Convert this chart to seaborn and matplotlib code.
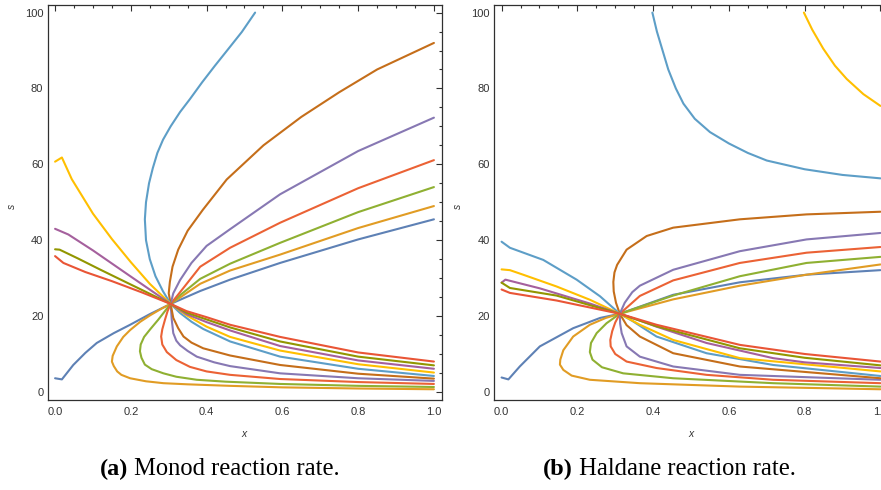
import matplotlib
matplotlib.use("Agg")
import matplotlib.pyplot as plt
from matplotlib.ticker import MultipleLocator
import seaborn as sns
import pandas as pd

# Trajectories (x, s) in the Monod phase plane, one list per curve
monod_c01 = [(0.0, 3.6), (0.018, 3.3), (0.048, 7.1), (0.08, 10.3), (0.11, 12.9), (0.155, 15.5),
             (0.198, 17.7), (0.25, 20.5), (0.305, 23.2), (0.383, 26.6), (0.462, 29.6),
             (0.594, 34.0), (0.8, 40.2), (1.0, 45.5)]
monod_c02 = [(1.0, 0.7), (0.8, 0.9), (0.6, 1.2), (0.462, 1.6), (0.35, 2.0), (0.286, 2.3),
             (0.24, 2.8), (0.198, 3.6), (0.175, 4.5), (0.164, 5.4), (0.155, 6.8), (0.15, 8.0),
             (0.152, 9.5), (0.163, 12.0), (0.18, 14.5), (0.198, 16.3), (0.225, 18.5),
             (0.251, 20.2), (0.28, 21.9), (0.305, 23.2), (0.383, 28.5), (0.462, 32.0),
             (0.594, 36.2), (0.8, 43.2), (1.0, 49.0)]
monod_c03 = [(1.0, 1.3), (0.8, 1.6), (0.594, 2.1), (0.45, 2.7), (0.374, 3.2), (0.32, 4.0),
             (0.286, 4.9), (0.255, 6.0), (0.237, 7.2), (0.228, 9.0), (0.224, 10.7),
             (0.226, 12.5), (0.235, 14.5), (0.251, 16.5), (0.272, 19.0), (0.29, 21.3),
             (0.305, 23.2), (0.33, 25.5), (0.383, 29.8), (0.462, 33.8), (0.594, 39.3),
             (0.8, 47.4), (1.0, 54.0)]
monod_c04 = [(1.0, 2.1), (0.8, 2.6), (0.594, 3.4), (0.462, 4.5), (0.4, 5.4), (0.356, 6.6),
             (0.32, 8.4), (0.295, 10.5), (0.283, 12.5), (0.28, 14.6), (0.283, 16.5),
             (0.29, 19.0), (0.297, 21.3), (0.305, 23.2), (0.33, 26.3), (0.383, 33.0),
             (0.462, 38.0), (0.594, 44.6), (0.8, 53.7), (1.0, 61.1)]
monod_c05 = [(1.0, 2.9), (0.8, 3.6), (0.594, 4.9), (0.462, 6.8), (0.42, 7.8), (0.374, 9.3),
             (0.35, 10.8), (0.33, 12.3), (0.32, 13.5), (0.312, 15.5), (0.308, 19.0),
             (0.307, 20.5), (0.305, 23.2), (0.312, 26.0), (0.33, 29.5), (0.36, 34.0),
             (0.4, 38.5), (0.462, 42.9), (0.594, 52.1), (0.8, 63.5), (1.0, 72.3)]
monod_c06 = [(1.0, 3.5), (0.8, 4.8), (0.594, 7.1), (0.462, 9.6), (0.391, 11.5), (0.36, 13.0),
             (0.339, 14.6), (0.325, 16.8), (0.312, 19.5), (0.305, 23.2), (0.30, 26.0),
             (0.303, 29.0), (0.31, 33.0), (0.325, 37.5), (0.35, 42.5), (0.39, 48.0),
             (0.453, 56.0), (0.55, 65.0), (0.65, 72.5), (0.75, 79.0), (0.85, 85.0), (1.0, 92.0)]
monod_c07 = [(1.0, 4.2), (0.8, 6.1), (0.594, 9.3), (0.462, 13.3), (0.391, 16.6), (0.36, 18.5),
             (0.33, 20.8), (0.305, 23.2), (0.285, 26.5), (0.265, 30.5), (0.25, 35.0),
             (0.24, 40.0), (0.237, 45.5), (0.24, 50.0), (0.248, 55.0), (0.258, 59.0),
             (0.27, 63.0), (0.285, 66.5), (0.305, 70.0), (0.33, 73.8), (0.356, 77.2),
             (0.388, 81.6), (0.422, 86.0), (0.458, 90.5), (0.493, 94.9), (0.528, 100.0)]
monod_c08 = [(1.0, 5.1), (0.8, 7.3), (0.594, 10.9), (0.462, 14.5), (0.4, 17.2), (0.347, 20.2),
             (0.305, 23.2), (0.25, 28.5), (0.2, 34.2), (0.15, 40.3), (0.1, 47.0),
             (0.044, 56.1), (0.018, 61.8), (0.0, 60.7)]
monod_c09 = [(1.0, 6.1), (0.8, 8.3), (0.594, 12.1), (0.462, 16.2), (0.4, 18.4), (0.347, 20.5),
             (0.305, 23.2), (0.2, 30.4), (0.1, 37.3), (0.035, 41.5), (0.0, 43.0)]
monod_c10 = [(1.0, 7.0), (0.8, 9.3), (0.594, 13.3), (0.462, 17.0), (0.4, 19.1), (0.347, 20.9),
             (0.305, 23.2), (0.2, 28.3), (0.12, 32.2), (0.06, 35.2), (0.012, 37.5), (0.0, 37.6)]
monod_c11 = [(1.0, 8.0), (0.8, 10.4), (0.594, 14.5), (0.462, 17.7), (0.4, 19.7), (0.347, 21.3),
             (0.305, 23.2), (0.23, 26.2), (0.15, 29.2), (0.08, 31.6), (0.022, 34.0), (0.0, 35.8)]

# Trajectories (x, s) in the Haldane phase plane
haldane_c01 = [(0.0, 3.8), (0.018, 3.3), (0.048, 6.7), (0.101, 12.0), (0.189, 16.8),
               (0.26, 19.5), (0.312, 20.6), (0.453, 25.6), (0.629, 28.9), (0.805, 30.9),
               (1.0, 32.1)]
haldane_c02 = [(1.0, 0.7), (0.629, 1.4), (0.365, 2.3), (0.233, 3.2), (0.185, 4.3), (0.163, 5.8),
               (0.154, 7.2), (0.155, 8.5), (0.163, 11.0), (0.189, 14.6), (0.233, 17.7),
               (0.275, 19.5), (0.312, 20.6), (0.453, 24.4), (0.629, 28.0), (0.805, 30.9),
               (1.0, 33.6)]
haldane_c03 = [(1.0, 1.4), (0.717, 2.3), (0.453, 3.6), (0.321, 4.9), (0.265, 6.5), (0.24, 8.5),
               (0.233, 10.5), (0.236, 12.9), (0.251, 15.5), (0.277, 18.1), (0.312, 20.6),
               (0.453, 25.4), (0.629, 30.5), (0.805, 34.0), (1.0, 35.6)]
haldane_c04 = [(1.0, 2.3), (0.717, 3.2), (0.541, 4.5), (0.409, 6.3), (0.33, 8.0), (0.3, 10.0),
               (0.288, 12.0), (0.287, 13.7), (0.292, 16.0), (0.3, 18.3), (0.312, 20.6),
               (0.365, 25.3), (0.453, 29.4), (0.629, 34.0), (0.805, 36.7), (1.0, 38.2)]
haldane_c05 = [(1.0, 3.2), (0.629, 4.5), (0.453, 6.7), (0.365, 9.3), (0.33, 12.0),
               (0.317, 15.5), (0.313, 18.0), (0.312, 20.6), (0.325, 23.5), (0.345, 26.3),
               (0.365, 28.0), (0.453, 32.2), (0.629, 37.1), (0.805, 40.2), (1.0, 41.9)]
haldane_c06 = [(1.0, 3.6), (0.629, 6.7), (0.453, 10.2), (0.365, 14.6), (0.33, 17.6),
               (0.312, 20.6), (0.302, 23.5), (0.296, 26.5), (0.295, 29.0), (0.298, 31.5),
               (0.305, 33.5), (0.33, 37.5), (0.383, 41.1), (0.453, 43.3), (0.629, 45.5),
               (0.805, 46.8), (1.0, 47.5)]
haldane_c07 = [(1.0, 4.2), (0.717, 7.1), (0.541, 10.2), (0.409, 14.6), (0.347, 18.6),
               (0.312, 20.6), (0.26, 25.2), (0.198, 29.6), (0.11, 34.8), (0.022, 38.0),
               (0.0, 39.6)]
haldane_c07_upper = [(0.398, 100.0), (0.41, 95.0), (0.425, 90.0), (0.44, 85.0), (0.46, 80.0),
                     (0.48, 76.0), (0.51, 72.0), (0.55, 68.5), (0.6, 65.5), (0.65, 63.0),
                     (0.7, 61.0), (0.8, 58.7), (0.9, 57.2), (1.0, 56.3)]
haldane_c08 = [(1.0, 5.4), (0.629, 8.9), (0.453, 13.7), (0.365, 17.7), (0.312, 20.6),
               (0.233, 24.3), (0.145, 27.8), (0.057, 30.9), (0.022, 32.1), (0.0, 32.3)]
haldane_c08_upper = [(0.798, 100.0), (0.82, 95.5), (0.849, 90.5), (0.88, 86.0),
                     (0.911, 82.5), (0.955, 78.5), (1.0, 75.4)]
haldane_c09 = [(1.0, 6.3), (0.8, 7.8), (0.717, 8.9), (0.541, 12.9), (0.409, 17.2),
               (0.365, 18.8), (0.312, 20.6), (0.233, 23.3), (0.101, 27.3), (0.01, 29.6),
               (0.0, 28.8)]
haldane_c10 = [(1.0, 7.0), (0.8, 9.0), (0.629, 11.5), (0.409, 17.3), (0.312, 20.6),
               (0.145, 25.4), (0.022, 27.4), (0.0, 28.8)]
haldane_c11 = [(1.0, 8.0), (0.8, 10.0), (0.629, 12.4), (0.409, 17.7), (0.312, 20.6),
               (0.145, 24.1), (0.022, 26.1), (0.0, 27.0)]

# Mathematica-style default line colours, one per initial condition
palette = ["#5E81B5", "#E19C24", "#8FB032", "#EB6235", "#8778B3", "#C56E1A",
           "#5D9EC7", "#FFBF00", "#A5609D", "#929600", "#E95536"]

monod_curves = [(1, monod_c01), (2, monod_c02), (3, monod_c03), (4, monod_c04),
                (5, monod_c05), (6, monod_c06), (7, monod_c07), (8, monod_c08),
                (9, monod_c09), (10, monod_c10), (11, monod_c11)]
haldane_curves = [(1, haldane_c01), (2, haldane_c02), (3, haldane_c03), (4, haldane_c04),
                  (5, haldane_c05), (6, haldane_c06), (7, haldane_c07), (7, haldane_c07_upper),
                  (8, haldane_c08), (8, haldane_c08_upper), (9, haldane_c09),
                  (10, haldane_c10), (11, haldane_c11)]

captions = [("(a)", " Monod reaction rate."), ("(b)", " Haldane reaction rate.")]


def to_frame(curves):
    rows = []
    for branch, (cid, pts) in enumerate(curves):
        for order, (x, s) in enumerate(pts):
            rows.append({"x": x, "s": s, "curve": cid, "branch": branch, "order": order})
    return pd.DataFrame(rows)


sns.set_theme(style="white")
plt.rcParams["font.family"] = ["Liberation Sans", "DejaVu Sans"]

W, H = 881, 490
fig = plt.figure(figsize=(W / 100, H / 100), dpi=100)

frame_color = "#303030"
label_color = "#333333"

ax_left = fig.add_axes([47.5 / W, (H - 399.5) / H, 394 / W, 394.5 / H])
ax_right = fig.add_axes([494 / W, (H - 399.5) / H, 394 / W, 394.5 / H])

for ax, curves in ((ax_left, monod_curves), (ax_right, haldane_curves)):
    df = to_frame(curves)
    sns.lineplot(data=df, x="x", y="s", hue="curve", units="branch", estimator=None,
                 sort=False, palette=palette, linewidth=1.5, legend=False, ax=ax)
    ax.set_xlim(-0.02, 1.02)
    ax.set_ylim(-2, 102)
    ax.xaxis.set_major_locator(MultipleLocator(0.2))
    ax.xaxis.set_minor_locator(MultipleLocator(0.05))
    ax.yaxis.set_major_locator(MultipleLocator(20))
    ax.yaxis.set_minor_locator(MultipleLocator(5))
    ax.xaxis.set_major_formatter(plt.FuncFormatter(lambda v, p: f"{v:.1f}"))
    ax.yaxis.set_major_formatter(plt.FuncFormatter(lambda v, p: f"{v:.0f}"))
    ax.tick_params(which="both", direction="in", top=True, right=True,
                   color=frame_color, width=0.8, labelsize=8, labelcolor=label_color)
    ax.tick_params(which="major", length=4)
    ax.tick_params(which="minor", length=2.3)
    ax.tick_params(axis="x", pad=5.5)
    ax.tick_params(axis="y", pad=3)
    for sp in ax.spines.values():
        sp.set_color(frame_color)
        sp.set_linewidth(0.9)
    ax.set_xlabel("x", fontsize=7.5, color=label_color, style="italic")
    ax.set_ylabel("s", fontsize=7.5, color=label_color, style="italic")
    ax.xaxis.set_label_coords(0.5, -0.075)
    ax.yaxis.set_label_coords(-0.078, 0.49)

fig.canvas.draw()
renderer = fig.canvas.get_renderer()
for (tag, text), x0 in zip(captions, (100, 543)):
    t1 = fig.text(x0 / W, 15 / H, tag, fontsize=17.5, fontweight="bold",
                  family="Liberation Serif", color="black", va="baseline", ha="left")
    bb = t1.get_window_extent(renderer)
    fig.text(bb.x1 / W, 15 / H, text, fontsize=17.7, family="Liberation Serif",
             color="black", va="baseline", ha="left")

fig.savefig("out.png", dpi=100, facecolor="white")
